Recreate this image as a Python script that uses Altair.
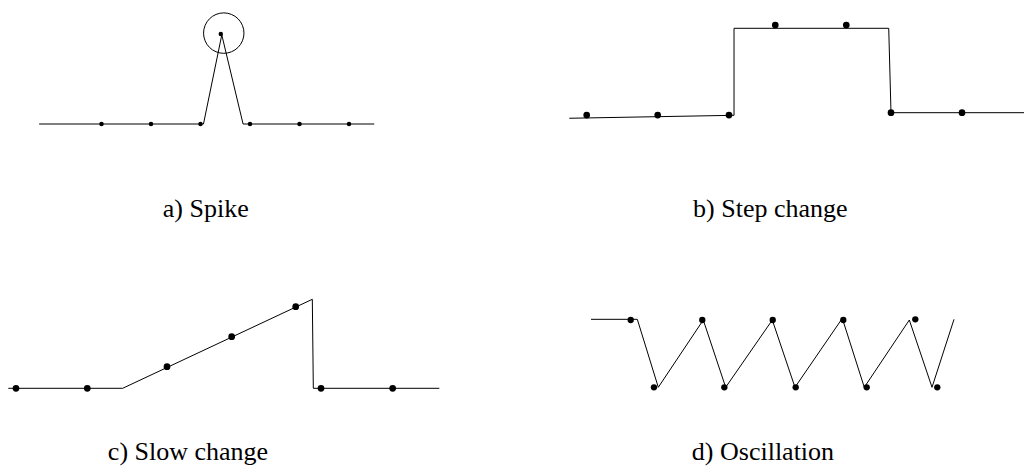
import altair as alt
import pandas as pd

# ---------------- data (time in sample units, value in level units) ----------------
# a) Spike
a_line_t = [-1.26, 2.06, 2.43, 2.86, 5.51]
a_line_v = [0, 0, 0.99, 0, 0]
a_dot_t = [0, 1, 2, 2.41, 3, 4, 5]
a_dot_v = [0, 0, 0, 1.0, 0, 0, 0]
a_ring_t = [2.47]
a_ring_v = [1.01]
a_label = ["a) Spike"]
a_label_t = [2.105]
a_label_v = [-1.03]

# b) Step change
b_line_t = [-0.245, 2.075, 2.075, 4.254, 4.286, 6.5]
b_line_v = [-0.034, 0, 1, 1, 0.03, 0.03]
b_dot_t = [0, 1, 2.004, 2.656, 3.656, 4.286, 5.286, 6.272]
b_dot_v = [0.003, 0.003, 0.003, 1.038, 1.038, 0.03, 0.03, 0.03]
b_label = ["b) Step change"]
b_label_t = [2.586]
b_label_v = [-1.166]

# c) Slow change
c_line_t = [-0.108, 1.496, 4.156, 4.17, 5.937]
c_line_v = [0, 0, 1, 0, 0]
c_dot_t = [0, 1, 2.118, 3.025, 3.923, 4.278, 5.283]
c_dot_v = [0, 0, 0.243, 0.58, 0.917, 0, 0]
c_label = ["c) Slow change"]
c_label_t = [2.412]
c_label_v = [-0.806]

# d) Oscillation
d_line_t = [-0.558, 0.093, 0.388, 1.020, 1.335, 1.990, 2.309, 2.974, 3.283, 3.916, 4.235, 4.544]
d_line_v = [1.01, 1.01, 0, 1, 0, 1, 0, 1.025, 0, 1, 0, 1.01]
d_dot_t = [0, 0.327, 1.006, 1.316, 1.996, 2.319, 2.988, 3.317, 4.0, 4.309]
d_dot_v = [1, 0, 1, 0, 1, 0, 1, 0, 1.01, 0]
d_label = ["d) Oscillation"]
d_label_t = [1.859]
d_label_v = [-1.080]

# ---------------- layout (panel placement in chart pixels) ----------------
M = 8  # page margin
FONT = "Liberation Serif"


def panel(line_t, line_v, dot_t, dot_v, label, label_t, label_v,
          x0, ux, y0, uy, dot_size, ring=None):
    sx = alt.Scale(domain=[0, 1], range=[x0 - M, x0 - M + ux], nice=False, zero=False)
    sy = alt.Scale(domain=[0, 1], range=[y0 - M, y0 - M - uy], nice=False, zero=False)
    X = alt.X("t:Q", scale=sx, axis=None)
    Y = alt.Y("v:Q", scale=sy, axis=None)

    line_df = pd.DataFrame({"t": line_t, "v": line_v, "i": list(range(len(line_t)))})
    dot_df = pd.DataFrame({"t": dot_t, "v": dot_v})
    lab_df = pd.DataFrame({"t": label_t, "v": label_v, "txt": label})

    layers = [
        alt.Chart(line_df).mark_line(color="black", strokeWidth=1).encode(
            x=X, y=Y, order=alt.Order("i:Q")),
        alt.Chart(dot_df).mark_point(filled=True, color="black", opacity=1,
                                     size=dot_size, shape="circle").encode(x=X, y=Y),
        alt.Chart(lab_df).mark_text(font=FONT, fontSize=26, color="black",
                                    align="center", baseline="alphabetic").encode(
            x=X, y=Y, text="txt:N"),
    ]
    if ring is not None:
        ring_df = pd.DataFrame({"t": ring[0], "v": ring[1]})
        layers.append(
            alt.Chart(ring_df).mark_point(filled=False, color="black", strokeWidth=1,
                                          opacity=1, size=1633, shape="circle").encode(x=X, y=Y))
    return alt.layer(*layers)


pa = panel(a_line_t, a_line_v, a_dot_t, a_dot_v, a_label, a_label_t, a_label_v,
           x0=101.5, ux=49.5, y0=124, uy=90, dot_size=20, ring=(a_ring_t, a_ring_v))
pb = panel(b_line_t, b_line_v, b_dot_t, b_dot_v, b_label, b_label_t, b_label_v,
           x0=586.7, ux=71, y0=115.3, uy=87, dot_size=45)
pc = panel(c_line_t, c_line_v, c_dot_t, c_dot_v, c_label, c_label_t, c_label_v,
           x0=16, ux=71.3, y0=388.3, uy=89, dot_size=45)
pd_ = panel(d_line_t, d_line_v, d_dot_t, d_dot_v, d_label, d_label_t, d_label_v,
            x0=630.7, ux=71.15, y0=387.3, uy=67.3, dot_size=40)

chart = alt.layer(pa, pb, pc, pd_).resolve_scale(
    x="independent", y="independent"
).properties(
    width=1016, height=459, padding=0, autosize="none", background="white"
).configure_view(stroke=None)

chart.save("out.html", embed_options={"renderer": "svg", "actions": False})
